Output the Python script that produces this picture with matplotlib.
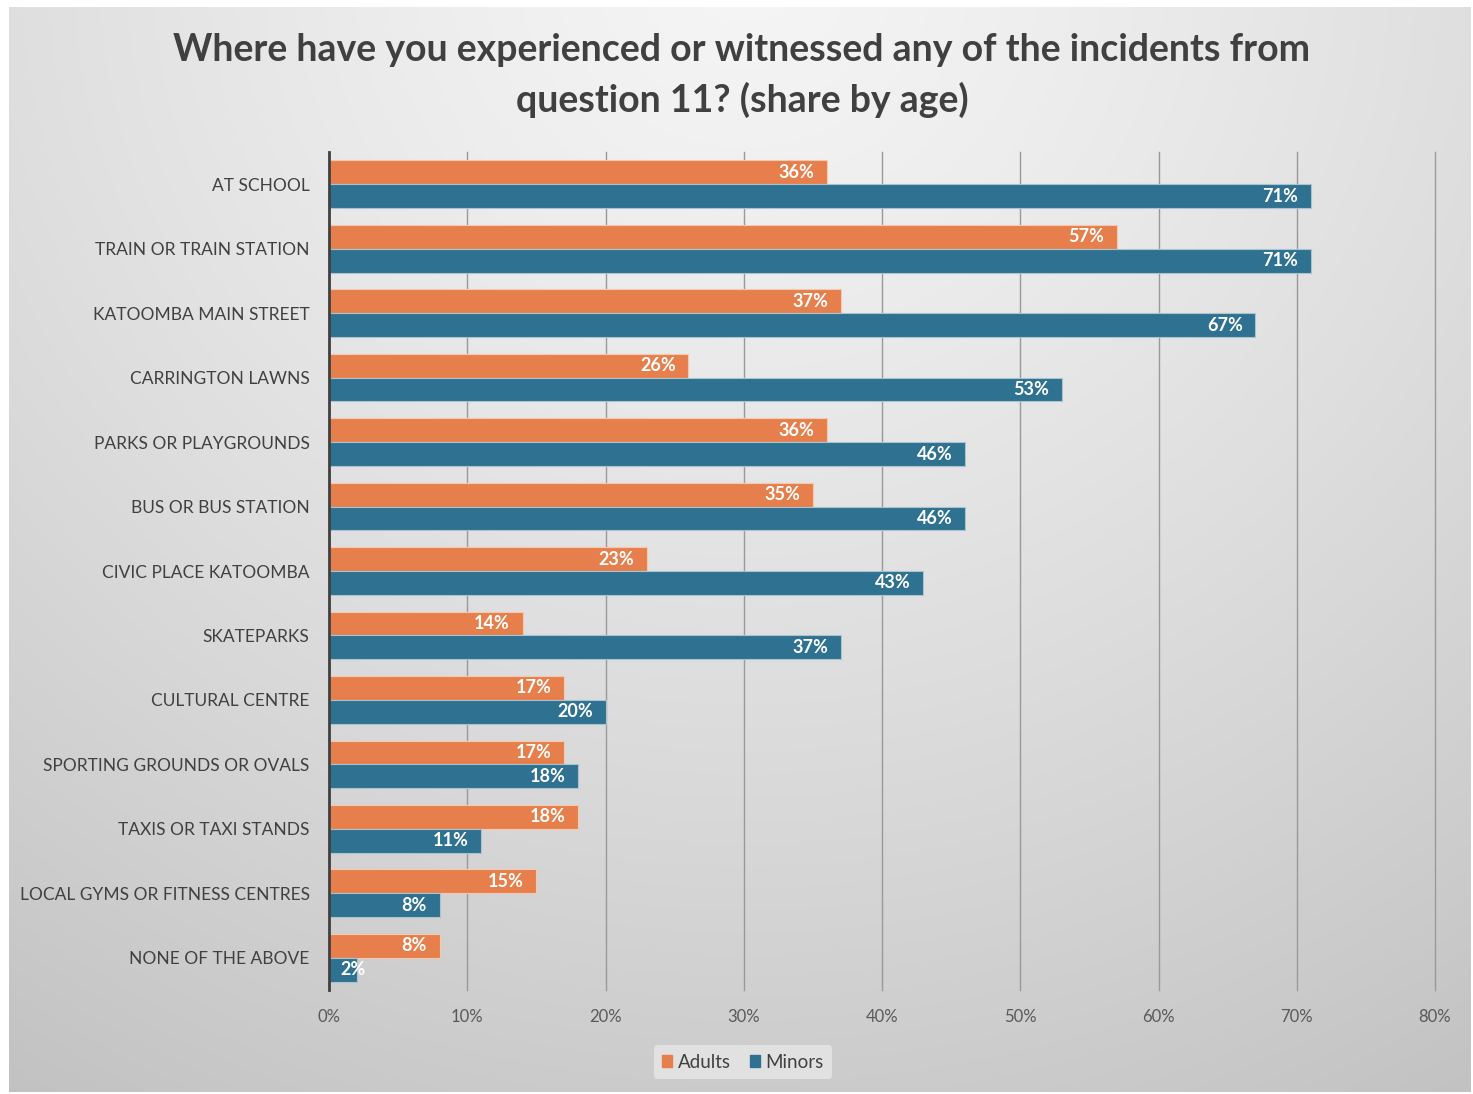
import matplotlib.pyplot as plt
import numpy as np
from matplotlib.patches import Patch

plt.rcParams['font.family'] = ['Lato', 'DejaVu Sans']

# data
categories = ["AT SCHOOL", "TRAIN OR TRAIN STATION", "KATOOMBA MAIN STREET",
              "CARRINGTON LAWNS", "PARKS OR PLAYGROUNDS", "BUS OR BUS STATION",
              "CIVIC PLACE KATOOMBA", "SKATEPARKS", "CULTURAL CENTRE",
              "SPORTING GROUNDS OR OVALS", "TAXIS OR TAXI STANDS",
              "LOCAL GYMS OR FITNESS CENTRES", "NONE OF THE ABOVE"]
adults = [36, 57, 37, 26, 36, 35, 23, 14, 17, 17, 18, 15, 8]
minors = [71, 71, 67, 53, 46, 46, 43, 37, 20, 18, 11, 8, 2]
x_ticks = [0, 10, 20, 30, 40, 50, 60, 70, 80]

orange = "#E67F4B"
teal = "#2F7190"
W, H = 1473, 1094

fig = plt.figure(figsize=(W / 100, H / 100), dpi=100)
fig.patch.set_facecolor("white")

# radial gradient background
bg = fig.add_axes([9 / W, 2 / H, 1462 / W, 1085 / H])
bg.set_zorder(-10)
yy, xx = np.mgrid[0:1085, 0:1462]
r = np.sqrt((xx - 735) ** 2 + ((yy + 40) * 1.05) ** 2)
r = r / r.max()
shade = 0.96 - 0.2 * r ** 1.3
bg.imshow(np.dstack([shade] * 3), aspect="auto", interpolation="bilinear")
bg.axis("off")

ax = fig.add_axes([329 / W, 1 - 990 / H, (1435 - 329) / W, (990 - 152) / H])
ax.patch.set_alpha(0)

y = np.arange(len(categories))
h = 0.37
b1 = ax.barh(y - h / 2, adults, height=h, color=orange, edgecolor="#f3c9b0",
             linewidth=0.8, label="Adults", zorder=3)
b2 = ax.barh(y + h / 2, minors, height=h, color=teal, edgecolor="#a9c3d0",
             linewidth=0.8, label="Minors", zorder=3)

for bars, vals in [(b1, adults), (b2, minors)]:
    for bar, v in zip(bars, vals):
        yc = bar.get_y() + bar.get_height() / 2
        if v < 5:
            # too short for the label, Excel lets it run past the bar end
            ax.annotate(f"{v}%", (0, yc), xytext=(8, 0), textcoords="offset points",
                        ha="left", va="center", color="white", fontsize=13,
                        fontweight="bold", zorder=4)
        else:
            ax.annotate(f"{v}%", (bar.get_width(), yc), xytext=(-9, 0),
                        textcoords="offset points", ha="right", va="center",
                        color="white", fontsize=13, fontweight="bold", zorder=4)

ax.set_xlim(0, 80)
ax.set_ylim(len(categories) - 0.5, -0.5)
ax.set_yticks(y)
ax.set_yticklabels(categories, fontsize=12.5, color="#404040")
ax.set_xticks(x_ticks)
ax.set_xticklabels([f"{t}%" for t in x_ticks], fontsize=12, color="#595959")
ax.tick_params(axis="both", length=0)
ax.tick_params(axis="y", pad=14)
ax.tick_params(axis="x", pad=14)
ax.grid(axis="x", color="#999999", linewidth=1, zorder=0)
for gl in ax.get_xgridlines():
    gl.set_clip_on(False)
for s in ["top", "right", "bottom"]:
    ax.spines[s].set_visible(False)
ax.spines["left"].set_color("#404040")
ax.spines["left"].set_linewidth(2)
ax.spines["left"].set_zorder(5)

fig.text(742 / W, 1 - 50 / H, "Where have you experienced or witnessed any of the incidents from",
         ha="center", va="center", fontsize=27, fontweight="bold", color="#404040")
fig.text(742 / W, 1 - 100 / H, "question 11? (share by age)",
         ha="center", va="center", fontsize=27, fontweight="bold", color="#404040")

handles = [Patch(color=orange, label="Adults"), Patch(color=teal, label="Minors")]
leg = fig.legend(handles=handles, loc="center", bbox_to_anchor=(743 / W, 1 - 1062 / H),
                 ncol=2, frameon=True, fontsize=13.5, handlelength=0.55, handleheight=0.55,
                 handletextpad=0.3, columnspacing=1.0, borderpad=0.45)
leg.get_frame().set_facecolor("#e4e4e4")
leg.get_frame().set_edgecolor("none")
leg.get_frame().set_alpha(0.9)
for t in leg.get_texts():
    t.set_color("#404040")

fig.savefig("out.png", dpi=100)
